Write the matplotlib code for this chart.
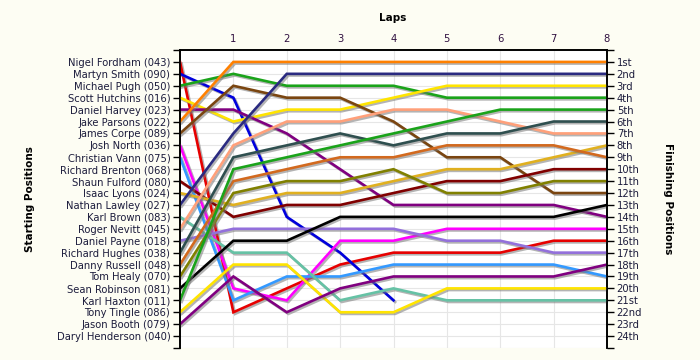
import matplotlib
matplotlib.use("Agg")
import matplotlib.pyplot as plt
import matplotlib.patheffects as pe

# drivers in starting order
drivers = ["Nigel Fordham (043)", "Martyn Smith (090)", "Michael Pugh (050)",
           "Scott Hutchins (016)", "Daniel Harvey (023)", "Jake Parsons (022)",
           "James Corpe (089)", "Josh North (036)", "Christian Vann (075)",
           "Richard Brenton (068)", "Shaun Fulford (080)", "Isaac Lyons (024)",
           "Nathan Lawley (027)", "Karl Brown (083)", "Roger Nevitt (045)",
           "Daniel Payne (018)", "Richard Hughes (038)", "Danny Russell (048)",
           "Tom Healy (070)", "Sean Robinson (081)", "Karl Haxton (011)",
           "Tony Tingle (086)", "Jason Booth (079)", "Daryl Henderson (040)"]

finish_labels = ["1st", "2nd", "3rd", "4th", "5th", "6th", "7th", "8th", "9th", "10th",
                 "11th", "12th", "13th", "14th", "15th", "16th", "17th", "18th", "19th",
                 "20th", "21st", "22nd", "23rd", "24th"]

laps = [0, 1, 2, 3, 4, 5, 6, 7, 8]

# position after each lap (lap 0 = grid), empty = no line
positions = [
    [1, 22, 20, 18, 17, 17, 17, 16, 16],
    [2, 4, 14, 17, 21],
    [3, 2, 3, 3, 3, 4, 4, 4, 4],
    [4, 6, 5, 5, 4, 3, 3, 3, 3],
    [5, 5, 7, 10, 13, 13, 13, 13, 14],
    [6, 1, 1, 1, 1, 1, 1, 1, 1],
    [7, 3, 4, 4, 6, 9, 9, 12, 12],
    [8, 20, 21, 16, 16, 15, 15, 15, 15],
    [9, 21, 19, 19, 18, 18, 18, 18, 19],
    [],
    [11, 14, 13, 13, 12, 11, 11, 10, 10],
    [12, 13, 12, 12, 11, 10, 10, 9, 8],
    [13, 7, 2, 2, 2, 2, 2, 2, 2],
    [14, 17, 17, 21, 20, 21, 21, 21, 21],
    [15, 8, 6, 6, 5, 5, 6, 7, 7],
    [16, 15, 15, 15, 15, 16, 16, 17, 17],
    [17, 9, 8, 7, 8, 7, 7, 6, 6],
    [18, 11, 10, 9, 9, 8, 8, 8, 9],
    [19, 12, 11, 11, 10, 12, 12, 11, 11],
    [20, 16, 16, 14, 14, 14, 14, 14, 13],
    [21, 10, 9, 8, 7, 6, 5, 5, 5],
    [22, 18, 18, 22, 22, 20, 20, 20, 20],
    [23, 19, 22, 20, 19, 19, 19, 19, 18],
    [],
]

colors = ["#E60000", "#0000DD", "#1AA31A", "#FFE400", "#800080", "#FF8000",
          "#7A4510", "#FF00FF", "#3399FF", "#999999", "#800000", "#E0B020",
          "#2A2A80", "#66C2A5", "#FFA07A", "#9370DB", "#2F4F4F", "#D2691E",
          "#808000", "#000000", "#1AA31A", "#FFE400", "#800080", "#FF8000"]

fig = plt.figure(figsize=(7, 3.6), dpi=100, facecolor="#FDFDF3")
ax = fig.add_axes([180 / 700, 1 - 348 / 360, 427 / 700, 298 / 360])
ax.set_facecolor("white")

shadow = [pe.SimpleLineShadow(offset=(1.2, -1.2), shadow_color="#777777", alpha=0.55),
          pe.Normal()]
for pos, col in zip(positions, colors):
    if not pos:
        continue
    ax.plot(laps[:len(pos)], pos, color=col, lw=1.9, solid_joinstyle="miter",
            path_effects=shadow, zorder=3)

ax.set_xlim(0, 8)
ax.set_ylim(25, 0)

ax.set_xticks(laps[1:])
ax.xaxis.tick_top()
ax.tick_params(axis="x", length=0, pad=4, labelsize=7.2, labelcolor="#301040")

yt = list(range(0, 26))
ax.set_yticks(yt)
ax.set_yticklabels([""] + drivers + [""], fontsize=7.2, color="#1C1C3C")
ax.tick_params(axis="y", direction="out", length=5, width=1, pad=2,
               right=True, labelright=False)

ax2 = ax.twinx()
ax2.set_ylim(25, 0)
ax2.set_yticks(yt)
ax2.set_yticklabels([""] + finish_labels + [""], fontsize=7.2, color="#1C1C3C")
ax2.tick_params(axis="y", direction="out", length=5, width=1, pad=2)

ax.grid(True, color="#E6E6E6", lw=0.8, zorder=0)
ax.set_axisbelow(True)
for a in (ax, ax2):
    a.spines["bottom"].set_visible(False)
    for s in ("left", "right", "top"):
        a.spines[s].set_linewidth(1.2)
        a.spines[s].set_color("black")

fig.text(393 / 700, 1 - 18 / 360, "Laps", ha="center", va="center",
         fontsize=7.5, fontweight="bold")
fig.text(30 / 700, 1 - 199 / 360, "Starting Positions", ha="center", va="center",
         rotation=90, fontsize=7.5, fontweight="bold")
fig.text(668 / 700, 1 - 199 / 360, "Finishing Positions", ha="center", va="center",
         rotation=270, fontsize=7.5, fontweight="bold")

fig.savefig("out.png", dpi=100, facecolor=fig.get_facecolor())
